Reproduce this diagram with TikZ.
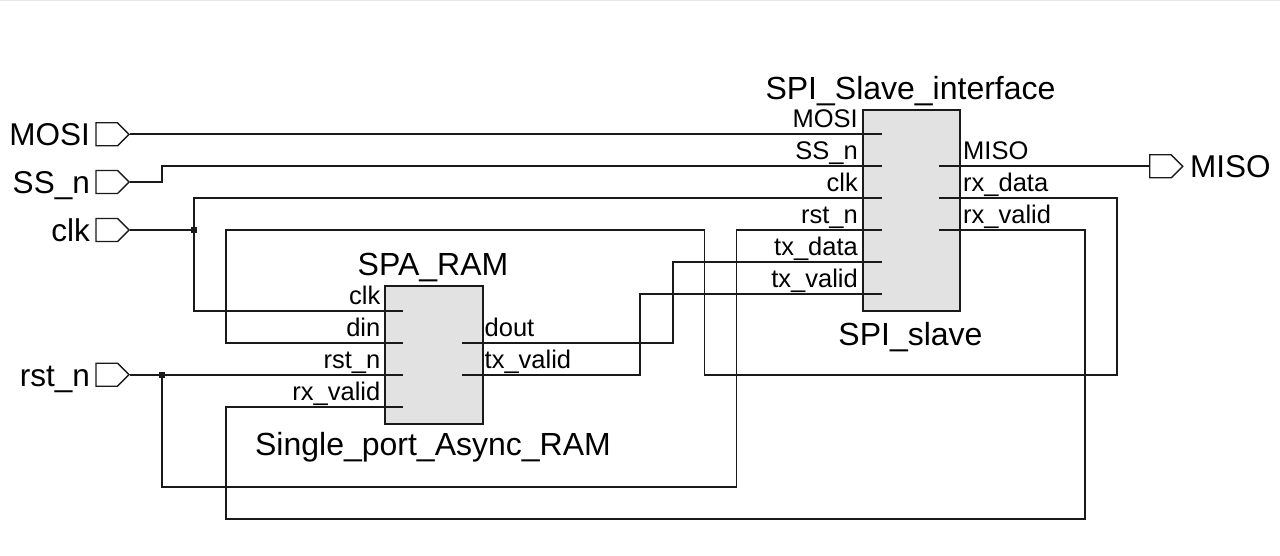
\documentclass[tikz,border=0pt]{standalone}
\usepackage{fontspec}
\setmainfont{Liberation Sans}
\usetikzlibrary{shapes.symbols}
\definecolor{boxfill}{HTML}{E2E2E2}
\definecolor{wire}{HTML}{1A1A1A}
\tikzset{
  wireline/.style={draw=wire, line width=1.8pt, line join=miter},
  blockbox/.style={draw=wire, fill=boxfill, line width=1.8pt, rectangle, inner sep=0pt, anchor=north west},
  portshape/.style={signal, signal to=east, draw=wire, fill=white, line width=1.4pt, minimum width=33pt, minimum height=23pt, inner sep=0pt},
  portlabel/.style={inner sep=0pt, font=\fontsize{31.5}{36}\selectfont},
  pinlabel/.style={inner sep=0pt, font=\fontsize{25.5}{30}\selectfont},
  titlelabel/.style={inner sep=0pt, anchor=base, font=\fontsize{32}{38}\selectfont},
  junction/.style={fill=wire, rectangle, minimum size=6pt, inner sep=0pt}
}
\begin{document}
\begin{tikzpicture}[x=1pt, y=-1pt]
\useasboundingbox (0,0) rectangle (1280,556);
\fill[black!9] (0,0) rectangle (1280,1.5);

% ---- blocks ----
\node[blockbox, minimum width=97pt, minimum height=201pt] (spi) at (862,109.3) {};
\node[blockbox, minimum width=97.4pt, minimum height=137.7pt] (spa) at (384.3,285) {};

% SPI pin ends
\coordinate (spi-mosi) at (882,134.3);
\coordinate (spi-ss)   at (882,166.3);
\coordinate (spi-clk)  at (882,198.3);
\coordinate (spi-rst)  at (882,230.3);
\coordinate (spi-txd)  at (882,262.3);
\coordinate (spi-txv)  at (882,294.3);
\coordinate (spi-miso) at (939.3,166.3);
\coordinate (spi-rxd)  at (939.3,198.3);
\coordinate (spi-rxv)  at (939.3,230.3);
% SPA pin ends
\coordinate (spa-clk)  at (403.3,310.7);
\coordinate (spa-din)  at (403.3,343);
\coordinate (spa-rst)  at (403.3,374.7);
\coordinate (spa-rxv)  at (403.3,406.7);
\coordinate (spa-dout) at (462.3,343);
\coordinate (spa-txv)  at (462.3,374.7);

% ---- titles ----
\node[titlelabel] (spititle) at (910.5,100) {SPI\_Slave\_interface};
\node[titlelabel] (spiinst) at (910.5,345) {SPI\_slave};
\node[titlelabel] (spatitle) at (433,276) {SPA\_RAM};
\node[titlelabel] (spainst) at (433,455) {Single\_port\_Async\_RAM};

% ---- pin labels ----
\node[pinlabel, anchor=base east] (l-mosi) at (858,127.8) {MOSI};
\node[pinlabel, anchor=base east] (l-ss)   at (858,159.8) {SS\_n};
\node[pinlabel, anchor=base east] (l-clk)  at (858,191.8) {clk};
\node[pinlabel, anchor=base east] (l-rst)  at (858,223.8) {rst\_n};
\node[pinlabel, anchor=base east] (l-txd)  at (858,255.8) {tx\_data};
\node[pinlabel, anchor=base east] (l-txv)  at (858,287.8) {tx\_valid};
\node[pinlabel, anchor=base west] (l-miso) at (963,159.8) {MISO};
\node[pinlabel, anchor=base west] (l-rxd)  at (963,191.8) {rx\_data};
\node[pinlabel, anchor=base west] (l-rxv)  at (963,223.8) {rx\_valid};

\node[pinlabel, anchor=base east] (a-clk)  at (380.5,304.2) {clk};
\node[pinlabel, anchor=base east] (a-din)  at (380.5,336.5) {din};
\node[pinlabel, anchor=base east] (a-rst)  at (380.5,368.2) {rst\_n};
\node[pinlabel, anchor=base east] (a-rxv)  at (380.5,400.2) {rx\_valid};
\node[pinlabel, anchor=base west] (a-dout) at (484.5,336.5) {dout};
\node[pinlabel, anchor=base west] (a-txv)  at (484.5,368.2) {tx\_valid};

% ---- ports ----
\node[portshape, anchor=east] (pmosi) at (130,134.3) {};
\node[portshape, anchor=east] (pss)   at (130,182) {};
\node[portshape, anchor=east] (pclk)  at (130,230) {};
\node[portshape, anchor=east] (prst)  at (130,374.7) {};
\node[portshape, anchor=west] (pmiso) at (1149,166.3) {};

\node[portlabel, anchor=base east] (tmosi) at (90,145.6) {MOSI};
\node[portlabel, anchor=base east] (tss)   at (90,193.3) {SS\_n};
\node[portlabel, anchor=base east] (tclk)  at (90,241.3) {clk};
\node[portlabel, anchor=base east] (trst)  at (90,386) {rst\_n};
\node[portlabel, anchor=base west] (tmiso) at (1190,177.6) {MISO};

% ---- junctions ----
\coordinate (jclk) at (194.3,230);
\coordinate (jrst) at (162.3,374.7);

% ---- wires ----
\draw[wireline] (pmosi.east) -- (spi-mosi);
\draw[wireline] (pss.east) -- (162.3,182) |- (spi-ss);
\draw[wireline] (pclk.east) -- (jclk);
\draw[wireline] (jclk) |- (spi-clk);
\draw[wireline] (jclk) |- (spa-clk);
\draw[wireline] (prst.east) -- (spa-rst);
\draw[wireline] (jrst) |- (736.5,487) |- (spi-rst);
\draw[wireline] (spi-rxd) -| (1117,374.7) -| (704.5,230.3) -| (226,343) -- (spa-din);
\draw[wireline] (spi-rxv) -| (1085,519) -| (226,406.7) -- (spa-rxv);
\draw[wireline] (spa-dout) -| (672.7,262.3) -- (spi-txd);
\draw[wireline] (spa-txv) -| (640,294.3) -- (spi-txv);
\draw[wireline] (spi-miso) -- (pmiso.west);

\node[junction] (dclk) at (jclk) {};
\node[junction] (drst) at (jrst) {};
\end{tikzpicture}
\end{document}
